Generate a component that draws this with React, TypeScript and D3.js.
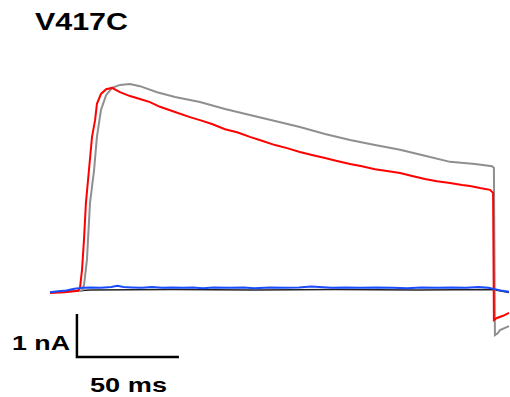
import * as d3 from 'd3';

// time in ms, current in nA
const redT = [0, 7, 13.7, 14.7, 15.7, 16.7, 17.6, 19.1, 20.6, 22.1, 23.0, 25.0, 27.5, 30.4, 34.3, 39.2, 44.1, 49.0, 53.9, 61.3, 68.6, 73.5, 79.4, 85.8, 91.7, 98.0, 103.9, 110.3, 116.2, 122.5, 128.4, 134.8, 140.7, 147.1, 152.9, 159.3, 165.2, 171.6, 177.5, 183.8, 189.7, 196.1, 202.0, 205.9, 210.8, 215.7, 217.2, 217.6, 219.1, 222.1, 225];
const redI = [-0.07, -0.05, -0.02, 0.05, 0.47, 1.2, 2.02, 2.79, 3.56, 3.95, 4.33, 4.56, 4.67, 4.70, 4.60, 4.51, 4.44, 4.37, 4.26, 4.14, 4.02, 3.95, 3.86, 3.74, 3.67, 3.56, 3.47, 3.37, 3.30, 3.21, 3.14, 3.07, 3.00, 2.93, 2.88, 2.81, 2.77, 2.72, 2.65, 2.58, 2.53, 2.49, 2.44, 2.42, 2.37, 2.33, 2.26, -0.70, -0.65, -0.60, -0.53];

const grayT = [0, 15.7, 16.7, 18.1, 19.6, 21.6, 23.0, 25.0, 27.5, 30.4, 34.3, 39.2, 44.1, 52.5, 61.3, 73.5, 85.8, 98.0, 110.3, 122.5, 134.8, 147.1, 159.3, 171.6, 183.8, 196.1, 208.3, 216.7, 217.6, 218.1, 219.6, 220.6, 225];
const grayI = [-0.05, -0.02, 0.12, 0.70, 2.02, 2.79, 3.56, 4.19, 4.53, 4.70, 4.77, 4.79, 4.74, 4.60, 4.49, 4.37, 4.21, 4.07, 3.93, 3.79, 3.63, 3.49, 3.37, 3.26, 3.12, 2.98, 2.93, 2.88, 2.84, -1.05, -1.00, -0.93, -0.84];

const blueT = [0, 4, 8, 12, 16, 20, 25, 30, 33, 36, 40, 45, 50, 55, 60, 65, 70, 75, 80, 88, 95, 100, 108, 115, 122, 128, 132, 138, 145, 152, 160, 168, 175, 182, 190, 197, 204, 210, 215, 218, 221, 225];
const blueI = [-0.05, -0.03, -0.01, 0.03, 0.05, 0.06, 0.05, 0.07, 0.1, 0.07, 0.06, 0.05, 0.07, 0.05, 0.06, 0.05, 0.06, 0.04, 0.06, 0.05, 0.06, 0.04, 0.06, 0.05, 0.06, 0.08, 0.07, 0.05, 0.06, 0.05, 0.06, 0.05, 0.04, 0.06, 0.05, 0.06, 0.05, 0.07, 0.05, 0.02, -0.01, -0.04];

const blackT = [0, 20, 60, 100, 140, 180, 217, 225];
const blackI = [-0.05, 0.0, 0.01, 0.0, 0.01, 0.0, 0.01, -0.06];

const title = 'V417C';
const barTime = 50; // ms
const barCurrent = 1; // nA

const W = 510;
const H = 397;

export default function App() {
  const x = d3.scaleLinear().domain([0, 225]).range([50, 509]);
  const y = d3.scaleLinear().domain([-1, 5]).range([333, 75]);

  const line = d3.line<[number, number]>()
    .x(d => x(d[0]))
    .y(d => y(d[1]));

  const zip = (t: number[], v: number[]) => t.map((d, i) => [d, v[i]] as [number, number]);

  const bx0 = x(13.2);
  const by0 = y(-1.56);
  const bx1 = x(13.2 + barTime);
  const by1 = y(-1.56 + barCurrent);

  const font = "'Liberation Sans', Arial, sans-serif";

  return (
    <svg width={W} height={H} style={{ position: 'absolute', left: 0, top: 0 }}>
      <rect width={W} height={H} fill="#fff" />
      <text x={35} y={30} fontFamily={font} fontWeight="bold" fontSize={24}
        textLength={93} lengthAdjust="spacingAndGlyphs" fill="#000">{title}</text>

      <path d={line(zip(blackT, blackI)) || ''} fill="none" stroke="#222" strokeWidth={1.5} />
      <path d={line(zip(grayT, grayI)) || ''} fill="none" stroke="#8f8f8f" strokeWidth={2} />
      <path d={line(zip(redT, redI)) || ''} fill="none" stroke="#ff0000" strokeWidth={2} />
      <path d={line(zip(blueT, blueI)) || ''} fill="none" stroke="#1a4cff" strokeWidth={2} />

      <path d={`M${bx0},${by1}V${by0}H${bx1}`} fill="none" stroke="#000" strokeWidth={2.5} />
      <text x={12} y={350} fontFamily={font} fontWeight="bold" fontSize={21}
        textLength={58} lengthAdjust="spacingAndGlyphs" fill="#000">1 nA</text>
      <text x={90} y={392} fontFamily={font} fontWeight="bold" fontSize={21}
        textLength={77} lengthAdjust="spacingAndGlyphs" fill="#000">50 ms</text>
    </svg>
  );
}
